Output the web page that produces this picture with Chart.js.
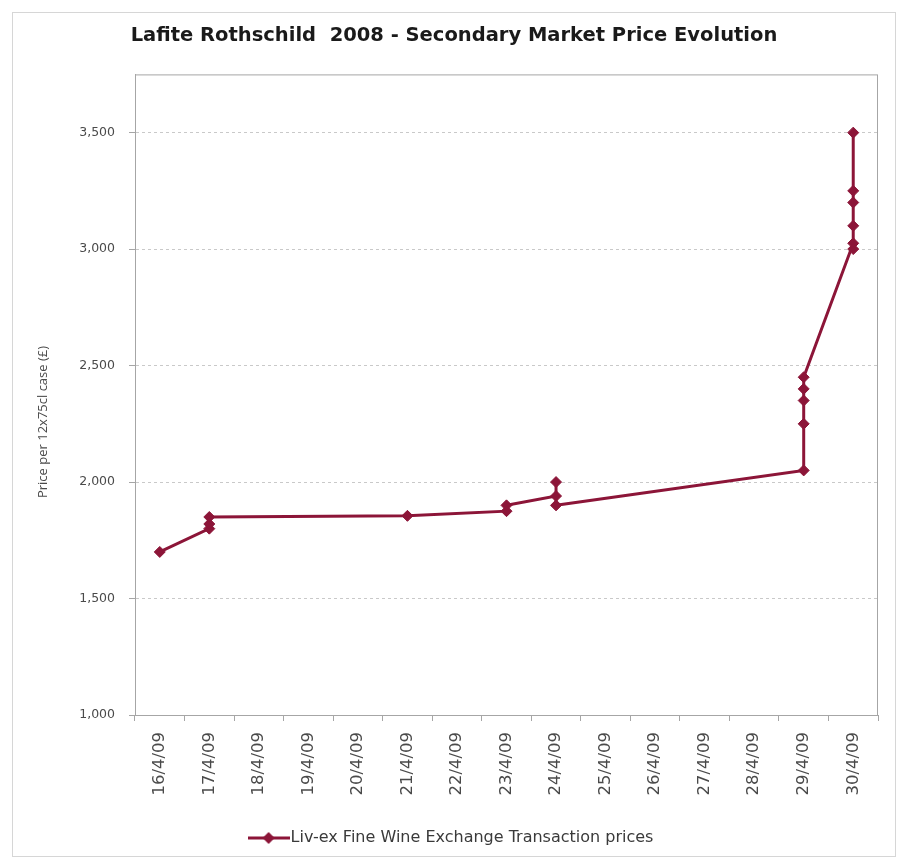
<!DOCTYPE html>
<html>
<head>
<meta charset="utf-8">
<script src="https://cdn.jsdelivr.net/npm/chart.js@4.4.1/dist/chart.umd.min.js"></script>
<style>
    html, body { margin: 0; padding: 0; background: #fff; }
    #wrap { position: relative; width: 903px; height: 862px; }
    #frame { position: absolute; left: 12px; top: 12px; width: 882px; height: 843px; border: 1px solid #d6d6d6; pointer-events: none; }
</style>
</head>
<body>
<div id="wrap">
    <canvas id="priceChart" width="903" height="862"></canvas>
    <div id="frame"></div>
</div>
<script>
// Axis categories (one per day)
const dayLabels = ['16/4/09', '17/4/09', '18/4/09', '19/4/09', '20/4/09', '21/4/09', '22/4/09', '23/4/09',
    '24/4/09', '25/4/09', '26/4/09', '27/4/09', '28/4/09', '29/4/09', '30/4/09'];

// Transactions, in trade order
const tradeDates = ['16/4/09', '17/4/09', '17/4/09', '17/4/09', '21/4/09', '23/4/09', '23/4/09',
    '24/4/09', '24/4/09', '24/4/09',
    '29/4/09', '29/4/09', '29/4/09', '29/4/09', '29/4/09',
    '30/4/09', '30/4/09', '30/4/09', '30/4/09', '30/4/09', '30/4/09'];
const tradePrices = [1700, 1800, 1820, 1850, 1855, 1875, 1900,
    1940, 2000, 1900,
    2050, 2250, 2350, 2400, 2450,
    3025, 3000, 3100, 3200, 3250, 3500];

const yTicks = [1000, 1500, 2000, 2500, 3000, 3500];
const yTitle = 'Price per 12x75cl case (£)';

const wine = '#8c1538';
const axisGrey = '#a6a6a6';
const textGrey = '#4a4a4a';

// Legend symbol: short line with a diamond in the middle
function legendSymbol() {
    const c = document.createElement('canvas');
    c.width = 42; c.height = 14;
    const g = c.getContext('2d');
    g.strokeStyle = wine;
    g.lineWidth = 3;
    g.beginPath(); g.moveTo(0, 7); g.lineTo(42, 7); g.stroke();
    g.fillStyle = wine;
    g.beginPath(); g.moveTo(21, 1); g.lineTo(27, 7); g.lineTo(21, 13); g.lineTo(15, 7); g.closePath(); g.fill();
    return c;
}

// Grey box round the plot area + the y axis caption (sits a bit below centre)
const plotExtras = {
    id: 'plotExtras',
    afterDraw(chart) {
        const { ctx, chartArea: a } = chart;
        ctx.save();
        ctx.strokeStyle = axisGrey;
        ctx.lineWidth = 1;
        ctx.strokeRect(a.left + 0.5, a.top + 0.5, a.right - a.left - 1, a.bottom - a.top);

        ctx.translate(43, 422);
        ctx.rotate(-Math.PI / 2);
        ctx.fillStyle = textGrey;
        ctx.font = '13px "Open Sans"';
        ctx.textAlign = 'center';
        ctx.textBaseline = 'middle';
        ctx.fillText(yTitle, 0, 0);
        ctx.restore();
    }
};

const points = tradeDates.map((d, i) => ({ x: d, y: tradePrices[i] }));

new Chart(document.getElementById('priceChart').getContext('2d'), {
    type: 'line',
    data: {
        labels: dayLabels,
        datasets: [{
            label: 'Liv-ex Fine Wine Exchange Transaction prices',
            data: points,
            borderColor: wine,
            backgroundColor: wine,
            borderWidth: 3,
            pointStyle: 'rectRot',
            pointRadius: 5.5,
            pointBorderWidth: 1,
            pointBackgroundColor: wine,
            pointBorderColor: wine,
            tension: 0
        }]
    },
    options: {
        responsive: false,
        animation: false,
        layout: { padding: { left: 30, right: 25, top: 0, bottom: 6 } },
        scales: {
            x: {
                type: 'category',
                offset: true,
                grid: {
                    offset: true,
                    drawOnChartArea: false,
                    drawTicks: true,
                    tickLength: 6,
                    tickColor: axisGrey
                },
                border: { color: axisGrey },
                ticks: {
                    color: textGrey,
                    font: { family: 'DejaVu Sans', size: 16.5 },
                    minRotation: 90,
                    maxRotation: 90,
                    padding: 11,
                    autoSkip: false
                },
                afterFit(scale) { scale.height = 105; }
            },
            y: {
                min: 1000,
                max: 3750,
                afterBuildTicks(scale) {
                    scale.ticks = yTicks.map(v => ({ value: v }));
                },
                grid: {
                    color: '#c9c9c9',
                    tickColor: axisGrey,
                    tickLength: 6,
                    tickBorderDash: []
                },
                border: { color: axisGrey, dash: [3, 3] },
                ticks: {
                    color: textGrey,
                    font: { family: 'DejaVu Sans', size: 12.5 },
                    padding: 14,
                    callback: v => v.toLocaleString('en-US')
                },
                afterFit(scale) { scale.width = 105; }
            }
        },
        plugins: {
            title: {
                display: true,
                text: 'Lafite Rothschild  2008 - Secondary Market Price Evolution',
                color: '#1a1a1a',
                font: { family: 'DejaVu Sans', size: 19.5, weight: 'bold' },
                padding: { top: 24, bottom: 27 }
            },
            legend: {
                position: 'bottom',
                labels: {
                    color: '#3a3a3a',
                    font: { family: 'DejaVu Sans', size: 16 },
                    usePointStyle: true,
                    pointStyle: legendSymbol(),
                    pointStyleWidth: 28,
                    padding: 10
                }
            },
            tooltip: { enabled: false }
        }
    },
    plugins: [plotExtras]
});
</script>
</body>
</html>
